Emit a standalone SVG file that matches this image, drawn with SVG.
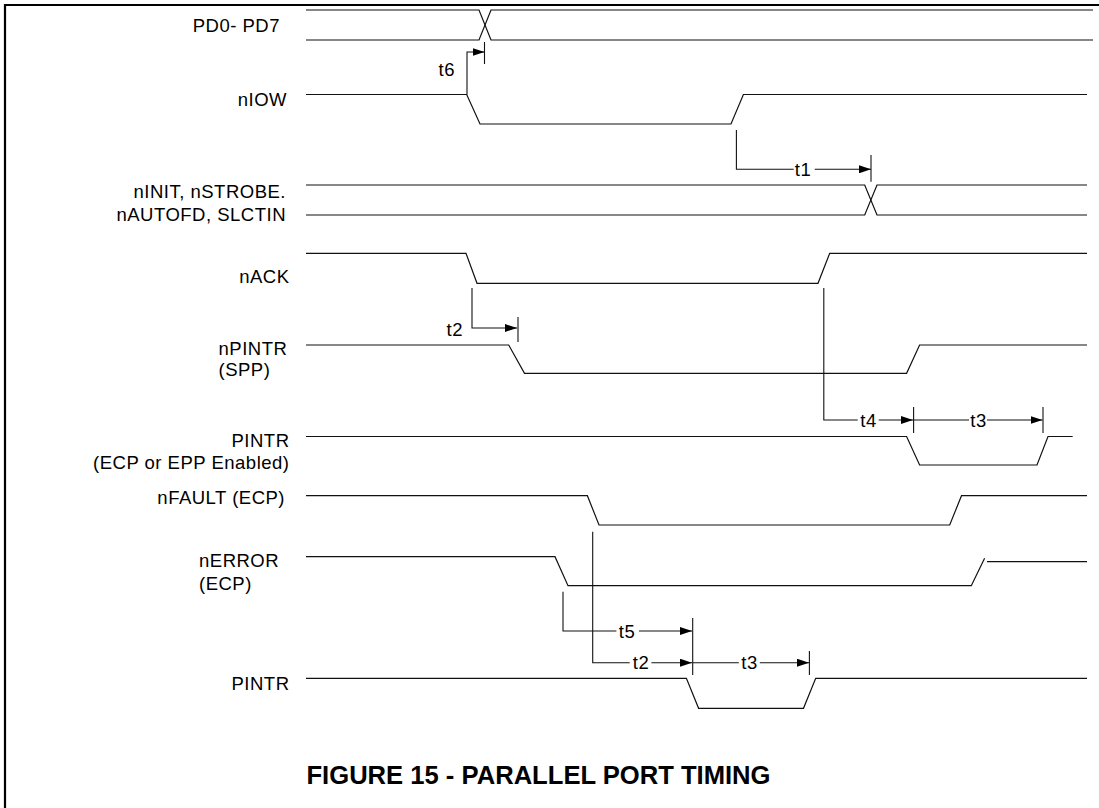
<svg xmlns="http://www.w3.org/2000/svg" width="1099" height="808" viewBox="0 0 1099 808">
<style>
.sig{fill:none;stroke:#111;stroke-width:1.2}
.dim{fill:none;stroke:#111;stroke-width:1.1}
.lbl{font-family:"Liberation Sans",Arial,sans-serif;font-size:18.5px;fill:#000;letter-spacing:0.5px}
.end{text-anchor:end}
.mid{text-anchor:middle}
.title{font-family:"Liberation Sans",Arial,sans-serif;font-size:25.6px;font-weight:bold;fill:#000;text-anchor:middle}
</style>
<defs>
<marker id="arr" viewBox="0 0 12 8" refX="12" refY="4" markerWidth="12" markerHeight="8" markerUnits="userSpaceOnUse" orient="auto">
<path d="M0,0 L12,4 L0,8 z" fill="#000"/>
</marker>
</defs>
<rect width="1099" height="808" fill="#fff"/>
<path d="M5,808 V5 H1099" fill="none" stroke="#000" stroke-width="2.2"/>

<g id="pd0-pd7">
<text class="lbl end" x="280" y="32">PD0- PD7</text>
<path class="sig" d="M306,10 H479 L491,40 H1093"/>
<path class="sig" d="M306,40 H479 L491,10 H1093"/>
</g>
<g id="niow">
<text class="lbl end" x="287" y="106">nIOW</text>
<path class="sig" d="M306,94.5 H466.7 L480,124 H731 L743.4,94.5 H1087"/>
</g>
<g id="ninit">
<text class="lbl end" x="286" y="198">nINIT, nSTROBE.</text>
<text class="lbl end" x="286" y="220.5">nAUTOFD, SLCTIN</text>
<path class="sig" d="M306,185 H864.7 L877,215 H1087"/>
<path class="sig" d="M306,215 H864.7 L877,185 H1087"/>
</g>
<g id="nack">
<text class="lbl end" x="289.5" y="282.7">nACK</text>
<path class="sig" d="M306,253.3 H466 L477,283.3 H818 L829.7,253.3 H1087"/>
</g>
<g id="npintr">
<text class="lbl" x="218.5" y="355">nPINTR</text>
<text class="lbl" x="218.5" y="376">(SPP)</text>
<path class="sig" d="M306,345 H508.7 L524.5,373.3 H906.6 L919.6,345 H1087"/>
</g>
<g id="pintr-ecp">
<text class="lbl end" x="289.5" y="447">PINTR</text>
<text class="lbl end" x="289.5" y="469">(ECP or EPP Enabled)</text>
<path class="sig" d="M306,436.5 H906.6 L919.6,465 H1037 L1048,436.5 H1072.7"/>
</g>
<g id="nfault">
<text class="lbl end" x="285" y="504">nFAULT (ECP)</text>
<path class="sig" d="M306,495.7 H587.4 L599,525 H949.7 L961.5,495.7 H1087"/>
</g>
<g id="nerror">
<text class="lbl" x="199" y="566.7">nERROR</text>
<text class="lbl" x="199" y="589.5">(ECP)</text>
<path class="sig" d="M306,556.7 H555 L568,585.7 H971.3 L984.6,558.3"/>
<path class="sig" d="M987,561.7 H1087"/>
</g>
<g id="pintr">
<text class="lbl end" x="289.5" y="690">PINTR</text>
<path class="sig" d="M306,678.3 H686.4 L698.6,708.3 H803.5 L815.7,678.3 H1087"/>
</g>

<g id="connectors">
<path class="dim" d="M467,94.5 V52 H484.5" marker-end="url(#arr)"/>
<path class="dim" d="M484.5,42 V64"/>
<text class="lbl end" x="455" y="76">t6</text>

<path class="dim" d="M736.4,130 V169.3 H793.7"/>
<path class="dim" d="M814.7,169.3 H871" marker-end="url(#arr)"/>
<path class="dim" d="M871,155 V181.7"/>
<text class="lbl mid" x="803" y="175.5">t1</text>

<path class="dim" d="M472,288 V328 H517" marker-end="url(#arr)"/>
<path class="dim" d="M518,317 V342"/>
<text class="lbl end" x="463" y="336">t2</text>

<path class="dim" d="M823.8,288 V420 H857.7"/>
<path class="dim" d="M878.7,420 H913" marker-end="url(#arr)"/>
<path class="dim" d="M913.6,407 V433"/>
<text class="lbl mid" x="868.5" y="426.5">t4</text>

<path class="dim" d="M913.6,420 H969"/>
<path class="dim" d="M987,420 H1042.5" marker-end="url(#arr)"/>
<path class="dim" d="M1043,407 V433"/>
<text class="lbl mid" x="978.5" y="426.5">t3</text>

<path class="dim" d="M563,591.7 V631 H616.4"/>
<path class="dim" d="M639,631 H692" marker-end="url(#arr)"/>
<text class="lbl mid" x="627" y="637.5">t5</text>

<path class="dim" d="M592.7,531.7 V662.7 H629.7"/>
<path class="dim" d="M651.4,662.7 H692" marker-end="url(#arr)"/>
<path class="dim" d="M692.7,618 V675"/>
<text class="lbl mid" x="641" y="669">t2</text>

<path class="dim" d="M692.7,662.7 H738.8"/>
<path class="dim" d="M759.8,662.7 H809" marker-end="url(#arr)"/>
<path class="dim" d="M809.4,651 V675"/>
<text class="lbl mid" x="749.5" y="669">t3</text>
</g>

<text class="title" x="538.5" y="784">FIGURE 15 - PARALLEL PORT TIMING</text>
</svg>
